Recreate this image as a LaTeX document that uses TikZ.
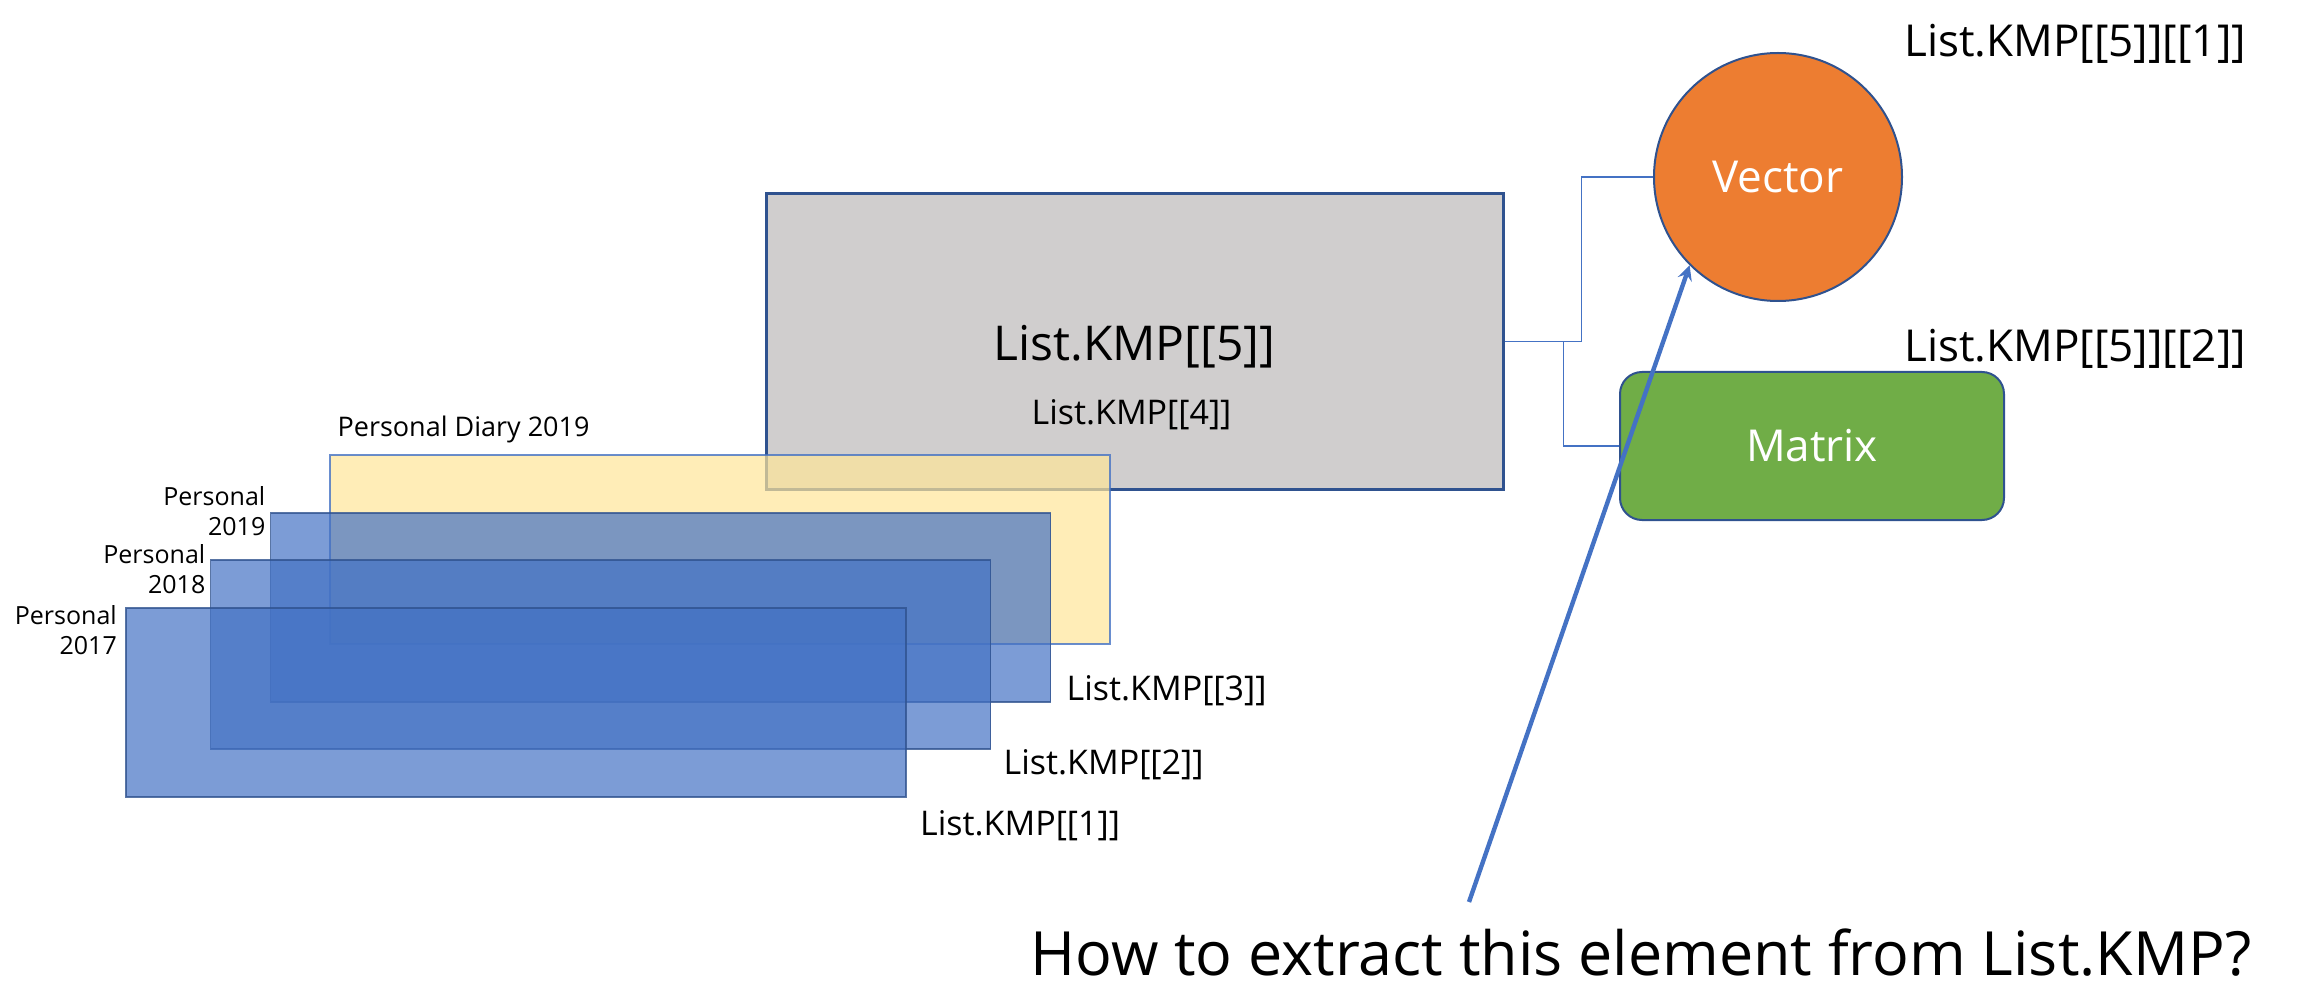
\documentclass[tikz,border=0pt]{standalone}
\usepackage{fontspec}
\setmainfont{Open Sans}
\usepackage{xcolor}
\usetikzlibrary{calc,positioning}
\definecolor{accblue}{HTML}{4472C4}
\definecolor{darkblue}{HTML}{2F528F}
\definecolor{boxgray}{HTML}{D0CECE}
\definecolor{vecorange}{HTML}{ED7D31}
\definecolor{matgreen}{HTML}{70AD47}
\definecolor{diaryyellow}{HTML}{FFE699}
\tikzstyle{kmp}=[
  >=stealth, x=0.5pt, y=-0.5pt
]
\tikzstyle{sheet}=[
  draw=darkblue, fill=accblue, fill opacity=0.7, draw opacity=0.8,
  line width=0.8pt, inner sep=0pt, minimum width=390pt, minimum height=94.5pt
]
\tikzstyle{diary}=[
  sheet, draw=accblue, fill=diaryyellow
]
\tikzstyle{listbox}=[
  draw=darkblue, fill=boxgray, line width=1.5pt, inner sep=0pt,
  minimum width=368.5pt, minimum height=147.5pt
]
\tikzstyle{vecnode}=[
  draw=darkblue, fill=vecorange, circle, line width=1pt, minimum size=124pt,
  text=white, font=\fontsize{22}{26}\selectfont
]
\tikzstyle{matnode}=[
  draw=darkblue, fill=matgreen, rounded corners=11pt, line width=1pt,
  minimum width=192pt, minimum height=74pt, text=white,
  font=\fontsize{22}{26}\selectfont
]
\tikzstyle{lbl}=[
  inner sep=0pt, font=\fontsize{17}{20}\selectfont
]
\tikzstyle{biglbl}=[
  inner sep=0pt, font=\fontsize{22}{26}\selectfont
]
\tikzstyle{note}=[
  inner sep=0pt, align=right, font=\fontsize{12.5}{15}\selectfont
]
\tikzstyle{conn}=[
  draw=accblue, line width=0.75pt
]
\tikzstyle{pointer}=[
  ->, draw=accblue, line width=2.2pt
]

\begin{document}
\begin{tikzpicture}[kmp]
    \useasboundingbox (0,0) rectangle (2299,1000);
    % element 5 and its two parts
    \node (kmp5) at (1134.5,341.5) [listbox] {};
    \node (t5) at ($(kmp5) + (0,5)$) [lbl, font=\fontsize{24}{28}\selectfont] {List.KMP[[5]]};
    \node (t4) at ($(kmp5) + (-3,73)$) [lbl] {List.KMP[[4]]};
    % stacked diaries
    \node (d19) at (720,549.5) [diary] {};
    \node (p19) at ($(d19) + (-59.5,58)$) [sheet] {};
    \node (p18) at ($(p19) + (-60,47)$) [sheet] {};
    \node (p17) at ($(p18) + (-84.5,48)$) [sheet] {};
    \node (td19) [note, anchor=west, font=\fontsize{13.5}{16}\selectfont] at ($(d19.north west) + (8,-25)$) {Personal Diary 2019};
    \node (tp19) [note, anchor=east] at ($(p19.north west) + (-4,-1.5)$) {Personal\\2019};
    \node (tp18) [note, anchor=east] at ($(p18.north west) + (-4,9.5)$) {Personal\\2018};
    \node (tp17) [note, anchor=east] at ($(p17.north west) + (-8,22.5)$) {Personal\\2017};
    \node (k3) [lbl, anchor=west] at ($(p19.south east) + (15,-12)$) {List.KMP[[3]]};
    \node (k2) [lbl, anchor=west] at ($(p18.south east) + (12,15)$) {List.KMP[[2]]};
    \node (k1) [lbl, anchor=west] at ($(p17.south east) + (13,28)$) {List.KMP[[1]]};
    % parts of element 5
    \node (vec) at (1778,177) [vecnode] {Vector};
    \node (mat) at (1812,446) [matnode] {Matrix};
    \node (t51) [biglbl, anchor=west] at (1904,44) {List.KMP[[5]][[1]]};
    \node (t52) [biglbl, anchor=west] at (1904,349) {List.KMP[[5]][[2]]};
    \draw [conn] (kmp5.east) -- ++(77,0) |- (vec.west);
    \draw [conn] (kmp5.east) -- ++(59,0) |- (mat.west);
    % question
    \node (ask) [inner sep=0pt, anchor=west, font=\fontsize{30.5}{36}\selectfont] at (1030,953) {How to extract this element from List.KMP?};
    \coordinate (tail) at (1469,902);
    \draw [pointer] (tail) -- (vec.225);
  \end{tikzpicture}
\end{document}
